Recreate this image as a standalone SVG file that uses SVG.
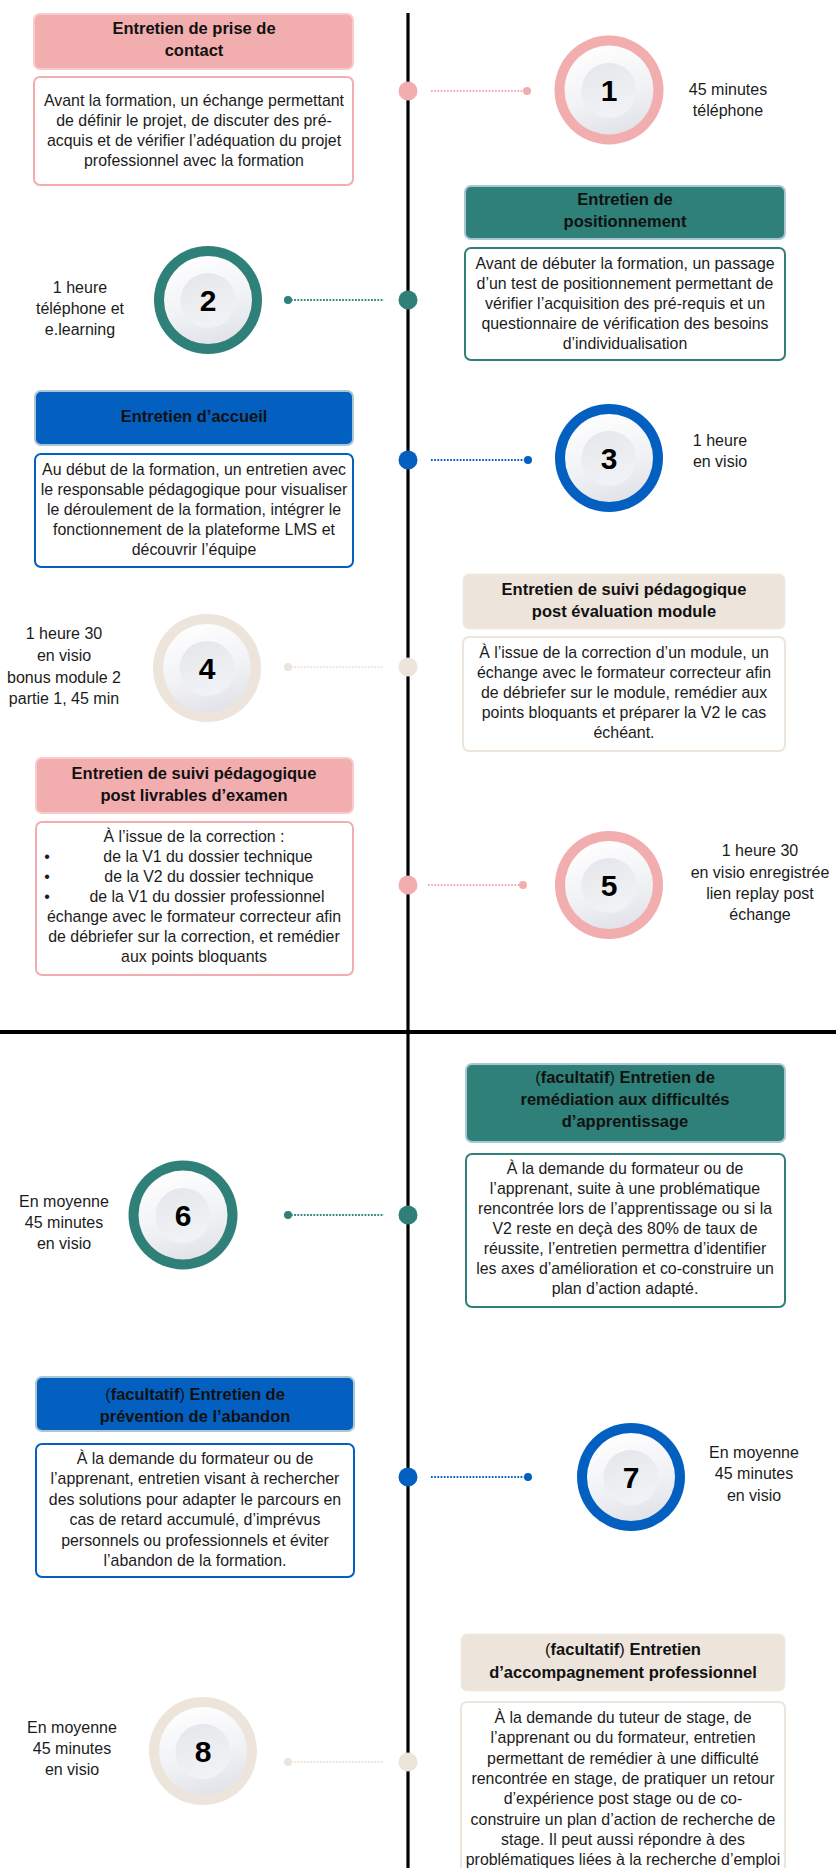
<svg xmlns="http://www.w3.org/2000/svg" width="836" height="1868" viewBox="0 0 836 1868">
<style>
text{font-family:"Liberation Sans",Arial,sans-serif;fill:#1b1b1b}
.t{font-size:16.5px;font-weight:bold;text-anchor:middle;fill:#111}
.d{font-size:15.9px;text-anchor:middle}
.s{font-size:16px;text-anchor:middle}
.n{font-size:30px;font-weight:bold;text-anchor:middle;fill:#000}
.nw{font-weight:normal}
.pinkT{fill:#F2ADAF;stroke:#F8CACA;stroke-width:2}
.tealT{fill:#2E8078;stroke:#A9C7D2;stroke-width:2}
.blueT{fill:#0360C1;stroke:#A9C7D2;stroke-width:2}
.beigeT{fill:#EDE4DB;stroke:#F2ECE5;stroke-width:1}
.pinkD{fill:#fff;stroke:#F2ADAF;stroke-width:2}
.tealD{fill:#fff;stroke:#2E8078;stroke-width:2}
.blueD{fill:#fff;stroke:#0360C1;stroke-width:2}
.beigeD{fill:#fff;stroke:#EDE4DB;stroke-width:2}
.disc{fill:url(#gDisc)}
.core{fill:url(#gCore)}
.conn{stroke-width:2;stroke-dasharray:1.7 1.5;fill:none}
</style>
<defs>
<linearGradient id="gDisc" x1="0.2" y1="0" x2="0.5" y2="1">
<stop offset="0" stop-color="#FFFFFF"/>
<stop offset="0.6" stop-color="#F1F2F5"/>
<stop offset="1" stop-color="#E2E4EA"/>
</linearGradient>
<linearGradient id="gCore" x1="0" y1="0" x2="0.3" y2="1">
<stop offset="0" stop-color="#E4E6EB"/>
<stop offset="1" stop-color="#F1F2F5"/>
</linearGradient>
</defs>
<rect width="836" height="1868" fill="#fff"/>

<g id="connectors">
<line x1="408" y1="13" x2="408" y2="1868" stroke="#000" stroke-width="3.2"/>
<line x1="0" y1="1032" x2="836" y2="1032" stroke="#000" stroke-width="4"/>
<circle cx="408" cy="91" r="9.5" fill="#F2ADAF"/>
<line class="conn" x1="431" y1="91" x2="524" y2="91" stroke="#F2ADAF"/>
<circle cx="527" cy="91" r="4" fill="#F2ADAF"/>
<circle cx="408" cy="300" r="9.5" fill="#2E8078"/>
<line class="conn" x1="291" y1="300" x2="384" y2="300" stroke="#2E8078"/>
<circle cx="288" cy="300" r="4" fill="#2E8078"/>
<circle cx="408" cy="460" r="9.5" fill="#0360C1"/>
<line class="conn" x1="431" y1="460" x2="525" y2="460" stroke="#0360C1"/>
<circle cx="528" cy="460" r="4" fill="#0360C1"/>
<circle cx="408" cy="667" r="9.5" fill="#EDE4DB"/>
<line class="conn" x1="291" y1="667" x2="384" y2="667" stroke="#EDE4DB"/>
<circle cx="288" cy="667" r="4" fill="#EDE4DB"/>
<circle cx="408" cy="885" r="9.5" fill="#F2ADAF"/>
<line class="conn" x1="428" y1="885" x2="520" y2="885" stroke="#F2ADAF"/>
<circle cx="523" cy="885" r="4" fill="#F2ADAF"/>
<circle cx="408" cy="1215" r="9.5" fill="#2E8078"/>
<line class="conn" x1="291" y1="1215" x2="384" y2="1215" stroke="#2E8078"/>
<circle cx="288" cy="1215" r="4" fill="#2E8078"/>
<circle cx="408" cy="1477" r="9.5" fill="#0360C1"/>
<line class="conn" x1="431" y1="1477" x2="525" y2="1477" stroke="#0360C1"/>
<circle cx="528" cy="1477" r="4" fill="#0360C1"/>
<circle cx="408" cy="1762" r="9.5" fill="#EDE4DB"/>
<line class="conn" x1="291" y1="1762" x2="384" y2="1762" stroke="#EDE4DB"/>
<circle cx="288" cy="1762" r="4" fill="#EDE4DB"/>
</g>

<g id="node1">
<rect class="pinkT" x="34" y="14" width="319" height="55" rx="6"/>
<text class="t" x="194" y="34">Entretien de prise de</text>
<text class="t" x="194" y="56">contact</text>
<rect class="pinkD" x="34" y="77" width="319" height="108" rx="6"/>
<text class="d" x="194" y="106">Avant la formation, un échange permettant</text>
<text class="d" x="194" y="126">de définir le projet, de discuter des pré-</text>
<text class="d" x="194" y="146">acquis et de vérifier l’adéquation du projet</text>
<text class="d" x="194" y="166">professionnel avec la formation</text>
<circle cx="609" cy="90" r="54.5" fill="#F2ADAF"/>
<circle class="disc" cx="609" cy="90" r="44.5"/>
<circle class="core" cx="609" cy="90.5" r="27.5"/>
<text class="n" x="609" y="101">1</text>
<text class="s" x="728" y="95">45 minutes</text>
<text class="s" x="728" y="116">téléphone</text>
</g>

<g id="node2">
<rect class="tealT" x="465" y="186" width="320" height="53" rx="6"/>
<text class="t" x="625" y="205">Entretien de</text>
<text class="t" x="625" y="227">positionnement</text>
<rect class="tealD" x="465" y="248" width="320" height="112" rx="6"/>
<text class="d" x="625" y="269">Avant de débuter la formation, un passage</text>
<text class="d" x="625" y="289">d’un test de positionnement permettant de</text>
<text class="d" x="625" y="309">vérifier l’acquisition des pré-requis et un</text>
<text class="d" x="625" y="329">questionnaire de vérification des besoins</text>
<text class="d" x="625" y="349">d’individualisation</text>
<circle cx="208" cy="300" r="54" fill="#2E8078"/>
<circle class="disc" cx="208" cy="300" r="44"/>
<circle class="core" cx="208" cy="300.5" r="27.5"/>
<text class="n" x="208" y="311">2</text>
<text class="s" x="80" y="293">1 heure</text>
<text class="s" x="80" y="314">téléphone et</text>
<text class="s" x="80" y="335">e.learning</text>
</g>

<g id="node3">
<rect class="blueT" x="35" y="391" width="318" height="54" rx="6"/>
<text class="t" x="194" y="422">Entretien d’accueil</text>
<rect class="blueD" x="35" y="454" width="318" height="113" rx="6"/>
<text class="d" x="194" y="475">Au début de la formation, un entretien avec</text>
<text class="d" x="194" y="495">le responsable pédagogique pour visualiser</text>
<text class="d" x="194" y="515">le déroulement de la formation, intégrer le</text>
<text class="d" x="194" y="535">fonctionnement de la plateforme LMS et</text>
<text class="d" x="194" y="555">découvrir l’équipe</text>
<circle cx="609" cy="458" r="54" fill="#0360C1"/>
<circle class="disc" cx="609" cy="458" r="44"/>
<circle class="core" cx="609" cy="458.5" r="27.5"/>
<text class="n" x="609" y="469">3</text>
<text class="s" x="720" y="446">1 heure</text>
<text class="s" x="720" y="467">en visio</text>
</g>

<g id="node4">
<rect class="beigeT" x="463" y="574" width="322" height="55" rx="6"/>
<text class="t" x="624" y="595">Entretien de suivi pédagogique</text>
<text class="t" x="624" y="617">post évaluation module</text>
<rect class="beigeD" x="463" y="637" width="322" height="114" rx="6"/>
<text class="d" x="624" y="658">À l’issue de la correction d’un module, un</text>
<text class="d" x="624" y="678">échange avec le formateur correcteur afin</text>
<text class="d" x="624" y="698">de débriefer sur le module, remédier aux</text>
<text class="d" x="624" y="718">points bloquants et préparer la V2 le cas</text>
<text class="d" x="624" y="738">échéant.</text>
<circle cx="207" cy="668" r="54" fill="#EDE4DB"/>
<circle class="disc" cx="207" cy="668" r="44"/>
<circle class="core" cx="207" cy="668.5" r="27.5"/>
<text class="n" x="207" y="679">4</text>
<text class="s" x="64" y="639">1 heure 30</text>
<text class="s" x="64" y="661">en visio</text>
<text class="s" x="64" y="683">bonus module 2</text>
<text class="s" x="64" y="704">partie 1, 45 min</text>
</g>

<g id="node5">
<rect class="pinkT" x="36" y="758" width="317" height="55" rx="6"/>
<text class="t" x="194" y="779">Entretien de suivi pédagogique</text>
<text class="t" x="194" y="801">post livrables d’examen</text>
<rect class="pinkD" x="36" y="822" width="317" height="153" rx="6"/>
<text class="d" x="194" y="842">À l’issue de la correction :</text>
<text class="d" x="47" y="862">•</text>
<text class="d" x="208" y="862">de la V1 du dossier technique</text>
<text class="d" x="47" y="882">•</text>
<text class="d" x="209" y="882">de la V2 du dossier technique</text>
<text class="d" x="47" y="902">•</text>
<text class="d" x="207" y="902">de la V1 du dossier professionnel</text>
<text class="d" x="194" y="922">échange avec le formateur correcteur afin</text>
<text class="d" x="194" y="942">de débriefer sur la correction,  et remédier</text>
<text class="d" x="194" y="962">aux points bloquants</text>
<circle cx="609" cy="885" r="54" fill="#F2ADAF"/>
<circle class="disc" cx="609" cy="885" r="44"/>
<circle class="core" cx="609" cy="885.5" r="27.5"/>
<text class="n" x="609" y="896">5</text>
<text class="s" x="760" y="856">1 heure 30</text>
<text class="s" x="760" y="878">en visio enregistrée</text>
<text class="s" x="760" y="899">lien replay post</text>
<text class="s" x="760" y="920">échange</text>
</g>

<g id="node6">
<rect class="tealT" x="466" y="1064" width="319" height="78" rx="6"/>
<text class="t" x="625" y="1083"><tspan class="nw">(</tspan>facultatif<tspan class="nw">)</tspan> Entretien de</text>
<text class="t" x="625" y="1105">remédiation aux difficultés</text>
<text class="t" x="625" y="1127">d’apprentissage</text>
<rect class="tealD" x="466" y="1154" width="319" height="153" rx="6"/>
<text class="d" x="625" y="1174">À la demande du formateur ou de</text>
<text class="d" x="625" y="1194">l’apprenant, suite à une problématique</text>
<text class="d" x="625" y="1214">rencontrée lors de l’apprentissage ou si la</text>
<text class="d" x="625" y="1234">V2 reste en deçà des 80% de taux de</text>
<text class="d" x="625" y="1254">réussite, l’entretien permettra d’identifier</text>
<text class="d" x="625" y="1274">les axes d’amélioration et co-construire un</text>
<text class="d" x="625" y="1294">plan d’action adapté.</text>
<circle cx="183" cy="1215" r="54.5" fill="#2E8078"/>
<circle class="disc" cx="183" cy="1215" r="44.5"/>
<circle class="core" cx="183" cy="1215.5" r="27.5"/>
<text class="n" x="183" y="1226">6</text>
<text class="s" x="64" y="1207">En moyenne</text>
<text class="s" x="64" y="1228">45 minutes</text>
<text class="s" x="64" y="1249">en visio</text>
</g>

<g id="node7">
<rect class="blueT" x="36" y="1377" width="318" height="54" rx="6"/>
<text class="t" x="195" y="1400"><tspan class="nw">(</tspan>facultatif<tspan class="nw">)</tspan> Entretien de</text>
<text class="t" x="195" y="1422">prévention de l’abandon</text>
<rect class="blueD" x="36" y="1444" width="318" height="133" rx="6"/>
<text class="d" x="195" y="1464">À la demande du formateur ou de</text>
<text class="d" x="195" y="1484">l’apprenant, entretien visant à rechercher</text>
<text class="d" x="195" y="1505">des solutions pour adapter le parcours en</text>
<text class="d" x="195" y="1525">cas de retard accumulé, d’imprévus</text>
<text class="d" x="195" y="1546">personnels ou professionnels et éviter</text>
<text class="d" x="195" y="1566">l’abandon de la formation.</text>
<circle cx="631" cy="1477" r="54" fill="#0360C1"/>
<circle class="disc" cx="631" cy="1477" r="44"/>
<circle class="core" cx="631" cy="1477.5" r="27.5"/>
<text class="n" x="631" y="1488">7</text>
<text class="s" x="754" y="1458">En moyenne</text>
<text class="s" x="754" y="1479">45 minutes</text>
<text class="s" x="754" y="1501">en visio</text>
</g>

<g id="node8">
<rect class="beigeT" x="461" y="1634" width="324" height="57" rx="6"/>
<text class="t" x="623" y="1655"><tspan class="nw">(</tspan>facultatif<tspan class="nw">)</tspan> Entretien</text>
<text class="t" x="623" y="1678">d’accompagnement professionnel</text>
<rect class="beigeD" x="461" y="1702" width="324" height="190" rx="6"/>
<text class="d" x="623" y="1723">À la demande du tuteur de stage, de</text>
<text class="d" x="623" y="1743">l’apprenant ou du formateur, entretien</text>
<text class="d" x="623" y="1764">permettant de remédier à une difficulté</text>
<text class="d" x="623" y="1784">rencontrée en stage, de pratiquer un retour</text>
<text class="d" x="623" y="1804">d’expérience post stage ou de co-</text>
<text class="d" x="623" y="1825">construire un plan d’action de recherche de</text>
<text class="d" x="623" y="1845">stage. Il peut aussi répondre à des</text>
<text class="d" x="623" y="1865">problématiques liées à la recherche d’emploi</text>
<circle cx="203" cy="1751" r="54" fill="#EDE4DB"/>
<circle class="disc" cx="203" cy="1751" r="44"/>
<circle class="core" cx="203" cy="1751.5" r="27.5"/>
<text class="n" x="203" y="1762">8</text>
<text class="s" x="72" y="1733">En moyenne</text>
<text class="s" x="72" y="1754">45 minutes</text>
<text class="s" x="72" y="1775">en visio</text>
</g>
</svg>
